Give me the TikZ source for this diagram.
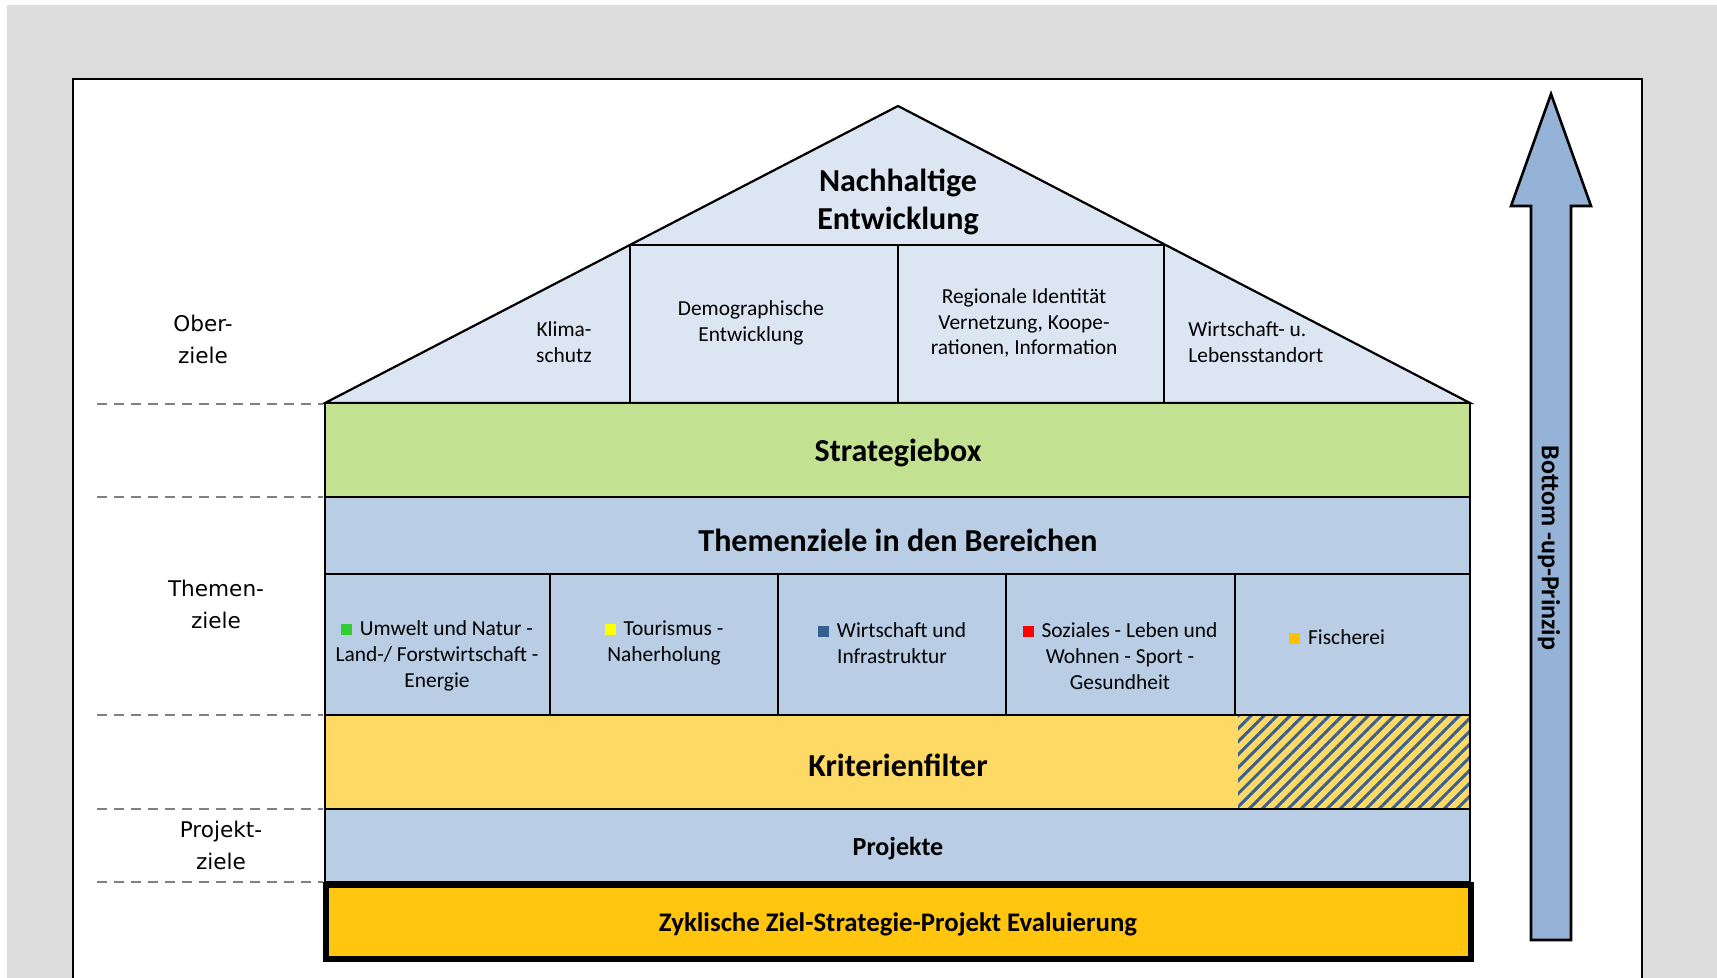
\documentclass[tikz,border=0pt]{standalone}
\usepackage{fontspec}
\setmainfont{Carlito}
\newfontfamily\sidefont{DejaVu Sans}
\usetikzlibrary{positioning,calc,patterns.meta}
\definecolor{bggray}{RGB}{220,220,220}
\definecolor{roofblue}{RGB}{220,230,242}
\definecolor{stratgreen}{RGB}{194,226,146}
\definecolor{boxblue}{RGB}{185,205,228}
\definecolor{filteryellow}{RGB}{255,217,102}
\definecolor{evalgold}{RGB}{255,197,15}
\definecolor{arrowblue}{RGB}{149,179,215}
\definecolor{hatchblue}{RGB}{55,96,146}
\definecolor{markgreen}{RGB}{51,204,51}
\definecolor{markyellow}{RGB}{255,255,0}
\definecolor{markblue}{RGB}{54,95,145}
\definecolor{markred}{RGB}{255,0,0}
\definecolor{markorange}{RGB}{255,192,0}
\newcommand{\tmark}[1]{\textcolor{#1}{\rule[0.3pt]{5.5pt}{5.5pt}}\hspace{4pt}}
\tikzset{level box/.style={draw=black,line width=1.3pt},
  head text/.style={font=\bfseries\fontsize{16}{19}\selectfont,align=center,inner sep=0pt},
  small text/.style={font=\fontsize{10.7}{12.9}\selectfont,align=center,inner sep=0pt},
  side text/.style={font=\sidefont\fontsize{10.8}{16}\selectfont,align=center,inner sep=0pt},
  level line/.style={draw=gray,line width=1.3pt,dash pattern=on 5pt off 3.5pt},}

\begin{document}
\begin{tikzpicture}[x=0.5pt,y=-0.5pt]
	\useasboundingbox (0,0) rectangle (1717,978);
	\clip (0,0) rectangle (1717,978);
	% background and frame
	\fill[white] (0,0) rectangle (1717,978);
	\fill[bggray] (7,5) rectangle (1717,978);
	\fill[white] (73,79) rectangle (1642,990);
	\draw[line width=1.1pt] (73,990) -- (73,79) -- (1642,79) -- (1642,990);

	% roof
	\coordinate (bl) at (325,403);
	\coordinate (apex) at (898,106);
	\coordinate (br) at (1470,403);
	\coordinate (jl) at (630,245);
	\coordinate (jm) at (898,245);
	\coordinate (jr) at (1164,245);
	\filldraw[fill=roofblue,line width=1.1pt] (bl) -- (apex) -- (br) -- cycle;
	\draw[line width=1.4pt] (jl) -- (jr);
	\foreach \c in {jl,jm,jr}
		\draw[line width=1.4pt] (\c) -- (\c |- bl);
	\node[head text] (nachhaltig) at (898,202) {Nachhaltige\\Entwicklung};
	\node[small text] (klima) at (564,342) {Klima-\\schutz};
	\node[small text] (demo) at (751,323) {Demographische\\Entwicklung};
	\node[small text] (regio) at (1024,323) {Regionale Identit\"at\\Vernetzung, Koope-\\rationen, Information};
	\node[small text,align=left,anchor=west] (wirt) at (1188,342) {Wirtschaft- u.\\Lebensstandort};

	% levels
	\filldraw[level box,fill=stratgreen] (325,403) rectangle (1470,497);
	\node[head text] (strat) at (898,453) {Strategiebox};
	\filldraw[level box,fill=boxblue] (325,497) rectangle (1470,574);
	\node[head text] (themen) at (898,540) {Themenziele in den Bereichen};
	\filldraw[level box,fill=boxblue] (325,574) rectangle (1470,715);
	\foreach \x in {550,778,1006,1235}
		\draw[line width=1.4pt] (\x,574) -- (\x,715);
	\node[small text] (umwelt) at (437,656) {\tmark{markgreen}Umwelt und Natur -\\Land-/ Forstwirtschaft -\\Energie};
	\node[small text] (tourismus) at (664,643) {\tmark{markyellow}Tourismus -\\Naherholung};
	\node[small text] (wirtschaft) at (892,643) {\tmark{markblue}Wirtschaft und\\Infrastruktur};
	\node[small text] (soziales) at (1120,656) {\tmark{markred}Soziales - Leben und\\Wohnen - Sport -\\Gesundheit};
	\node[small text] (fischerei) at (1337,637) {\tmark{markorange}Fischerei};

	\fill[filteryellow] (325,715) rectangle (1470,809);
	\fill[pattern={Lines[angle=45,distance=4.6pt,line width=1.5pt]},pattern color=hatchblue] (1238,715) rectangle (1470,809);
	\draw[level box] (325,715) rectangle (1470,809);
	\node[head text] (filter) at (898,765) {Kriterienfilter};
	\filldraw[level box,fill=boxblue] (325,809) rectangle (1470,882);
	\node[head text,font=\bfseries\fontsize{13}{15}\selectfont] (projekte) at (898,849) {Projekte};
	\filldraw[fill=evalgold,line width=3.3pt] (326,885) rectangle (1471,959);
	\node[head text,font=\bfseries\fontsize{13.4}{15}\selectfont] (eval) at (898,924) {Zyklische Ziel-Strategie-Projekt Evaluierung};

	% side labels
	\foreach \y in {404,497,715,809,882}
		\draw[level line] (97,\y) -- (323,\y);
	\node[side text] (ober) at (203,339) {Ober-\\ziele};
	\node[side text] (themenziele) at (216,604) {Themen-\\ziele};
	\node[side text] (projektziele) at (221,845) {Projekt-\\ziele};

	% bottom-up arrow
	\filldraw[fill=arrowblue,line width=1.3pt] (1531,940) -- (1531,206) -- (1511,206) -- (1551,94)
		-- (1591,206) -- (1571,206) -- (1571,940) -- cycle;
	\node[font=\bfseries\fontsize{13}{15}\selectfont,rotate=-90,inner sep=0pt] (bottomup) at (1549,548) {Bottom -up-Prinzip};
\end{tikzpicture}
\end{document}
